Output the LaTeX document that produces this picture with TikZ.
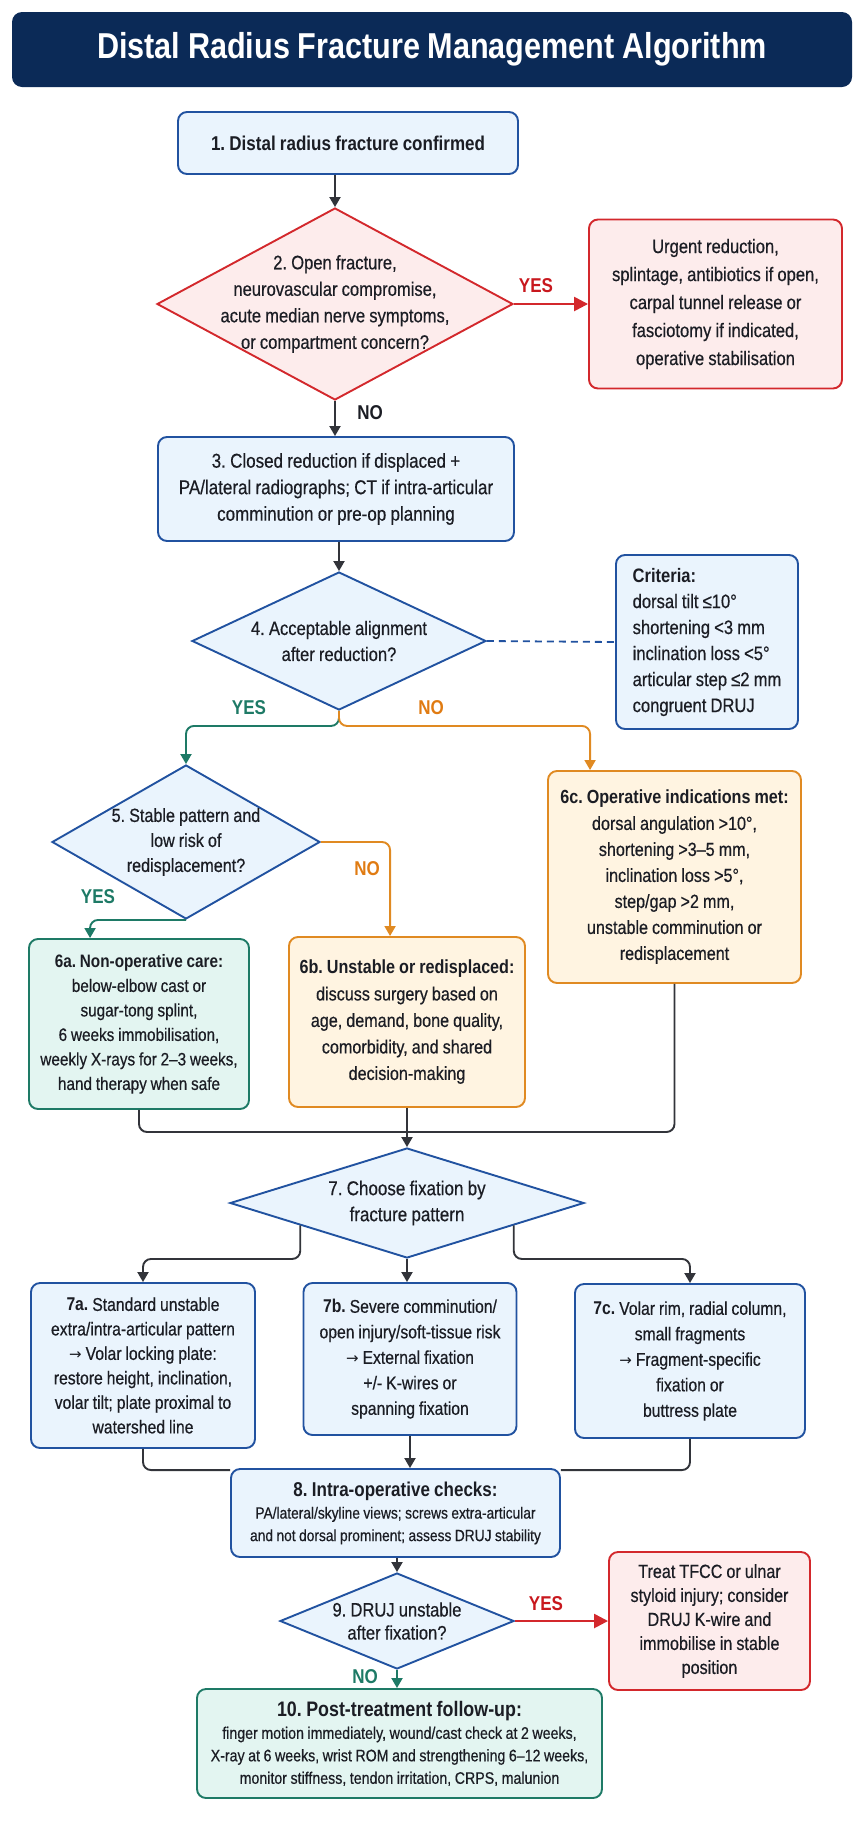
\documentclass[tikz,border=0pt]{standalone}
\usepackage{fontspec}
\setmainfont{Liberation Sans}[FakeStretch=0.85, WordSpace=0.9, UprightFeatures={FakeBold=0.5}]
\newfontfamily\symfont{DejaVu Sans}
\newcommand{\toarrow}{{\symfont\fontsize{15}{15}\selectfont →}}
\frenchspacing
\usetikzlibrary{arrows.meta,calc,shapes.geometric,positioning}
\definecolor{navy}{HTML}{0B2A57}
\definecolor{ink}{HTML}{1B1D24}
\definecolor{bluebd}{HTML}{2152A0}
\definecolor{bluefill}{HTML}{EAF4FD}
\definecolor{redbd}{HTML}{D3282C}
\definecolor{redfill}{HTML}{FDECEC}
\definecolor{tealbd}{HTML}{1E7A66}
\definecolor{tealfill}{HTML}{E3F5F1}
\definecolor{orangebd}{HTML}{E08A22}
\definecolor{orangefill}{HTML}{FFF4E1}
\definecolor{orangetxt}{HTML}{E07B12}
\definecolor{redtxt}{HTML}{C8181E}
\tikzset{
>={Triangle[length=10pt,width=11pt]},
  box/.style={
    rectangle,
    rounded corners=9pt,
    draw=bluebd, line width=1.9pt,
    fill=bluefill,
    text=ink,
    align=center,
    inner sep=4pt},
  bluebox/.style={box},
  redbox/.style={box, draw=redbd, fill=redfill},
  tealbox/.style={box, draw=tealbd, fill=tealfill},
  orangebox/.style={box, draw=orangebd, fill=orangefill},
  decision/.style={
    diamond,
    draw=bluebd, line width=1.9pt,
    fill=bluefill,
    text=ink,
    align=center,
    inner sep=-90pt},
  reddecision/.style={decision, draw=redbd, fill=redfill},
  line/.style={draw=ink!90, line width=1.9pt, rounded corners=8pt},
  arr/.style={line, ->},
  redarr/.style={line, -{Triangle[length=14pt,width=14pt]}, draw=redbd, line width=2.5pt},
  greenarr/.style={line, ->, draw=tealbd},
  orangearr/.style={line, ->, draw=orangebd},
  dashline/.style={draw=bluebd, line width=1.8pt, dash pattern=on 7pt off 5pt},
  answer/.style={font=\bfseries\fontsize{20}{22}\selectfont, inner sep=0pt},
}

\begin{document}
\begin{tikzpicture}[x=1pt,y=-1pt]
  \useasboundingbox (0,0) rectangle (864,1821);
  % title
  \node[rectangle, rounded corners=10pt, fill=navy, text=white, minimum width=840pt, minimum height=75pt,
    font=\bfseries\fontsize{36}{40}\selectfont] (title) at (432,49.5) {Distal Radius Fracture Management Algorithm};
  % first checks
  \node[bluebox, minimum width=340pt, minimum height=62pt, font=\bfseries\fontsize{20}{26}\selectfont] (confirmed) at (348,143)
    {1. Distal radius fracture confirmed};
  \node[reddecision, minimum width=356pt, minimum height=192pt, font=\fontsize{19.5}{26.5}\selectfont] (open) at (335,304)
    {2. Open fracture,\\ neurovascular compromise,\\ acute median nerve symptoms,\\ or compartment concern?};
  \node[redbox, minimum width=253pt, minimum height=169pt, font=\fontsize{19.5}{28}\selectfont] (urgent) at (715.5,304)
    {Urgent reduction,\\ splintage, antibiotics if open,\\ carpal tunnel release or\\ fasciotomy if indicated,\\ operative stabilisation};
  \node[bluebox, minimum width=356pt, minimum height=104pt, font=\fontsize{20}{26.5}\selectfont] (closed) at (336,489)
    {3. Closed reduction if displaced +\\ PA/lateral radiographs; CT if intra-articular\\ comminution or pre-op planning};
  \node[decision, minimum width=294pt, minimum height=138pt, font=\fontsize{19.5}{26}\selectfont] (alignment) at (339,641)
    {4. Acceptable alignment\\ after reduction?};
  \node[bluebox, align=left, minimum width=182pt, minimum height=174pt, font=\fontsize{19.5}{26}\selectfont] (criteria) at (707,642)
    {\textbf{Criteria:}\\ dorsal tilt ≤10°\\ shortening <3 mm\\ inclination loss <5°\\ articular step ≤2 mm\\ congruent DRUJ};
  \draw[arr] (open.north |- confirmed.south) -- (open.north);
  \draw[redarr] (open.east) -- (urgent.west);
  \node[answer, text=redtxt] (open-yes) at (536,286) {YES};
  \draw[arr] (open.south) -- (open.south |- closed.north);
  \node[answer, text=ink] (open-no) at (370,413) {NO};
  \draw[arr] (alignment.north |- closed.south) -- (alignment.north);
  \draw[dashline] (alignment.east) -- (criteria.west);
  % alignment branches
  \node[decision, minimum width=268pt, minimum height=154pt, font=\fontsize{19}{25}\selectfont] (stable) at (186,842)
    {5. Stable pattern and\\ low risk of\\ redisplacement?};
  \node[orangebox, minimum width=253pt, minimum height=212pt, font=\fontsize{19}{26}\selectfont] (operative) at (674.5,877)
    {\textbf{6c. Operative indications met:}\\ dorsal angulation >10°,\\ shortening >3–5 mm,\\ inclination loss >5°,\\ step/gap >2 mm,\\ unstable comminution or\\ redisplacement};
  \node[tealbox, minimum width=220pt, minimum height=170pt, font=\fontsize{18}{24.5}\selectfont] (nonop) at (139,1024)
    {\textbf{6a. Non-operative care:}\\ below-elbow cast or\\ sugar-tong splint,\\ 6 weeks immobilisation,\\ weekly X-rays for 2–3 weeks,\\ hand therapy when safe};
  \node[orangebox, minimum width=236pt, minimum height=170pt, font=\fontsize{19}{26.5}\selectfont] (unstable) at (407,1022)
    {\textbf{6b. Unstable or redisplaced:}\\ discuss surgery based on\\ age, demand, bone quality,\\ comorbidity, and shared\\ decision-making};
  \draw[greenarr] (alignment.south) -- ++(0,15) -| (stable.north);
  \draw[orangearr] (alignment.south) -- ++(0,15) -| ($(operative.north west)+(43,0)$);
  \node[answer, text=tealbd] (align-yes) at (249,708) {YES};
  \node[answer, text=orangetxt] (align-no) at (431,708) {NO};
  \draw[greenarr] (stable.south) -| ($(nonop.north west)+(62,0)$);
  \node[answer, text=tealbd] (stable-yes) at (98,897) {YES};
  \draw[orangearr] (stable.east) -| ($(unstable.north west)+(102,0)$);
  \node[answer, text=orangetxt] (stable-no) at (367,869) {NO};
  % fixation choice
  \coordinate (merge) at (407,1132);
  \node[decision, minimum width=354pt, minimum height=110pt, font=\fontsize{20}{26}\selectfont] (choose) at (407,1203)
    {7. Choose fixation by\\ fracture pattern};
  \draw[line] (nonop.south) |- (merge);
  \draw[line] (operative.south) |- (merge);
  \draw[arr] (unstable.south) -- (choose.north);
  \node[bluebox, minimum width=224pt, minimum height=165pt, font=\fontsize{18.5}{24.5}\selectfont] (plate) at (143,1365.5)
    {\textbf{7a.} Standard unstable\\ extra/intra-articular pattern\\ \toarrow{} Volar locking plate:\\ restore height, inclination,\\ volar tilt; plate proximal to\\ watershed line};
  \node[bluebox, minimum width=213pt, minimum height=152pt, font=\fontsize{18.5}{25.5}\selectfont] (exfix) at (410,1359)
    {\textbf{7b.} Severe comminution/\\ open injury/soft-tissue risk\\ \toarrow{} External fixation\\ +/- K-wires or\\ spanning fixation};
  \node[bluebox, minimum width=230pt, minimum height=154pt, font=\fontsize{18.5}{25.5}\selectfont] (fragment) at (690,1361)
    {\textbf{7c.} Volar rim, radial column,\\ small fragments\\ \toarrow{} Fragment-specific\\ fixation or\\ buttress plate};
  \coordinate (choose-l) at ($(choose.west)!0.4!(choose.south)$);
  \coordinate (choose-r) at ($(choose.east)!0.4!(choose.south)$);
  \draw[arr] (choose-l) -- (choose-l |- choose.south) -| (plate.north);
  \draw[arr] (choose.south) -- (choose.south |- exfix.north);
  \draw[arr] (choose-r) -- (choose-r |- choose.south) -| (fragment.north);
  % checks and follow-up
  \node[bluebox, minimum width=329pt, minimum height=88pt, font=\fontsize{16.2}{22.5}\selectfont] (checks) at (395.5,1513)
    {{\bfseries\fontsize{20}{24}\selectfont 8. Intra-operative checks:}\\ PA/lateral/skyline views; screws extra-articular\\ and not dorsal prominent; assess DRUJ stability};
  \draw[line] (plate.south) |- ([yshift=-2pt]checks.north west);
  \draw[arr] (exfix.south) -- (exfix.south |- checks.north);
  \draw[line] (fragment.south) |- ([yshift=-2pt]checks.north east);
  \node[decision, minimum width=234pt, minimum height=96pt, font=\fontsize{19.5}{23}\selectfont] (druj) at (397,1621)
    {9. DRUJ unstable\\ after fixation?};
  \node[redbox, minimum width=201pt, minimum height=138pt, font=\fontsize{19}{24}\selectfont] (tfcc) at (709.5,1621)
    {Treat TFCC or ulnar\\ styloid injury; consider\\ DRUJ K-wire and\\ immobilise in stable\\ position};
  \node[tealbox, minimum width=405pt, minimum height=109pt, font=\fontsize{16.7}{22.5}\selectfont] (followup) at (399.5,1743.5)
    {{\bfseries\fontsize{21}{25}\selectfont 10. Post-treatment follow-up:}\\ finger motion immediately, wound/cast check at 2 weeks,\\ X-ray at 6 weeks, wrist ROM and strengthening 6–12 weeks,\\ monitor stiffness, tendon irritation, CRPS, malunion};
  \draw[arr] (druj.north |- checks.south) -- (druj.north);
  \draw[redarr] (druj.east) -- (tfcc.west);
  \node[answer, text=redtxt] (druj-yes) at (546,1604) {YES};
  \draw[greenarr] (druj.south) -- (druj.south |- followup.north);
  \node[answer, text=tealbd] (druj-no) at (365,1677) {NO};
\end{tikzpicture}
\end{document}
